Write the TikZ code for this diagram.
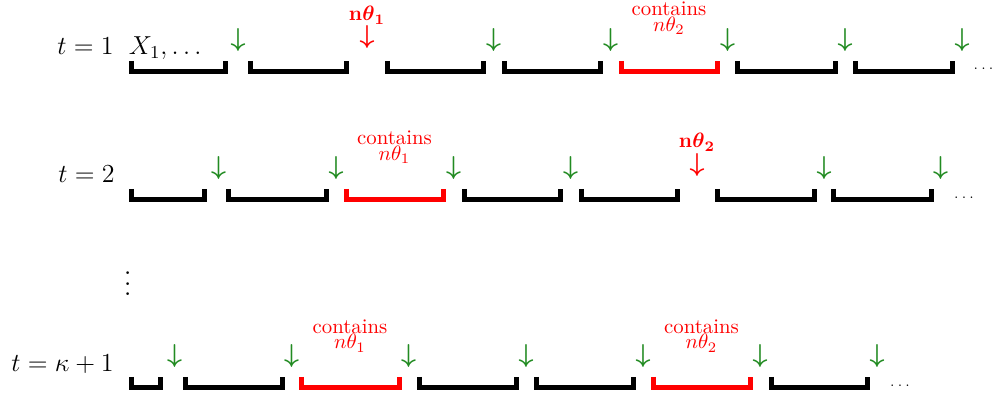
\RequirePackage{fix-cm}
\documentclass[tikz,border=0pt]{standalone}
\usepackage{amsmath}
\definecolor{arrgreen}{RGB}{34,139,34}
\newcommand{\ubrk}[4]{\draw[brk,#4] ({#1+2.5},#3) -- ({#1+2.5},{#3+10.5}) -- ({#2-2.5},{#3+10.5}) -- ({#2-2.5},#3);}
\newcommand{\darr}{$\boldsymbol{\downarrow}$}
\tikzset{
 brk/.style={line width=2.5pt, line cap=butt, line join=miter},
 garr/.style={anchor=base, inner sep=0pt, text=arrgreen, font=\fontsize{13}{15.6}\selectfont},
 rarr/.style={garr, text=red},
 rlab/.style={anchor=base, inner sep=0pt, text=red, font=\fontsize{10.4}{12.35}\selectfont},
 clab/.style={rlab, align=center},
 rowlab/.style={anchor=base east, inner sep=0pt, font=\fontsize{13}{15.6}\selectfont},
 more/.style={anchor=base, inner sep=0pt, font=\fontsize{6.5}{7.8}\selectfont},
}
\begin{document}
\begin{tikzpicture}[x=0.5pt,y=-0.5pt]
\useasboundingbox (0,0) rectangle (993,394);
% ---------- row 1 ----------
\node[rowlab] (t1) at (114,55) {$t=1$};
\node[rowlab, anchor=base west] (x1) at (128.5,55) {$X_1,\ldots$};
\foreach \a/\b/\c in {128.5/227.5/black, 247.5/349/black, 384.5/485.5/black, 501.5/602.5/black, 618.5/720/red, 735/837.5/black, 852.5/955/black}
  {\ubrk{\a}{\b}{61}{\c}}
\foreach \x [count=\i] in {238,493.5,610.5,727.5,845,962}
  {\node[garr] (g1\i) at (\x,47) {\darr};}
\node[rarr] (r1) at (367,44) {\darr};
\node[rlab] (r1l) at (367,21) {$\mathbf{n}\boldsymbol{\theta}_{\mathbf{1}}$};
\node[clab] (c1) at (669,31.5) {contains\\[-4.6pt]$n\theta_2$};
\node[more] (m1) at (983.5,69.5) {$\ldots$};
% ---------- row 2 ----------
\node[rowlab] (t2) at (115,183) {$t=2$};
\foreach \a/\b/\c in {128.5/206.5/black, 226/329/black, 343.5/446/red, 461.5/562.5/black, 578.5/680/black, 714.5/816.5/black, 831/933.5/black}
  {\ubrk{\a}{\b}{189}{\c}}
\foreach \x [count=\i] in {218.5,336,453.5,570.5,824,940.5}
  {\node[garr] (g2\i) at (\x,175) {\darr};}
\node[rarr] (r2) at (697,172) {\darr};
\node[rlab] (r2l) at (697,148) {$\mathbf{n}\boldsymbol{\theta}_{\mathbf{2}}$};
\node[clab] (c2) at (394.5,160.5) {contains\\[-4.6pt]$n\theta_1$};
\node[more] (m2) at (964,198.5) {$\ldots$};
% ---------- dots ----------
\node[anchor=base, inner sep=0pt, scale=1.3, font=\fontsize{10}{12}\selectfont] (vd) at (127.7,295.5) {$\vdots$};
% ---------- row 3 ----------
\node[rowlab] (t3) at (114,371.5) {$t=\kappa+1$};
\foreach \a/\b/\c in {128.5/162.5/black, 182.5/284.5/black, 299/401.5/red, 416.5/518.5/black, 533.5/635.5/black, 650.5/752.5/red, 768.5/870/black}
  {\ubrk{\a}{\b}{377}{\c}}
\foreach \x [count=\i] in {174.5,291.5,408.5,526,643,760,877}
  {\node[garr] (g3\i) at (\x,363) {\darr};}
\node[clab] (c3) at (350,349) {contains\\[-4.6pt]$n\theta_1$};
\node[clab] (c4) at (701.5,349) {contains\\[-4.6pt]$n\theta_2$};
\node[more] (m3) at (900,387) {$\ldots$};
\end{tikzpicture}
\end{document}
